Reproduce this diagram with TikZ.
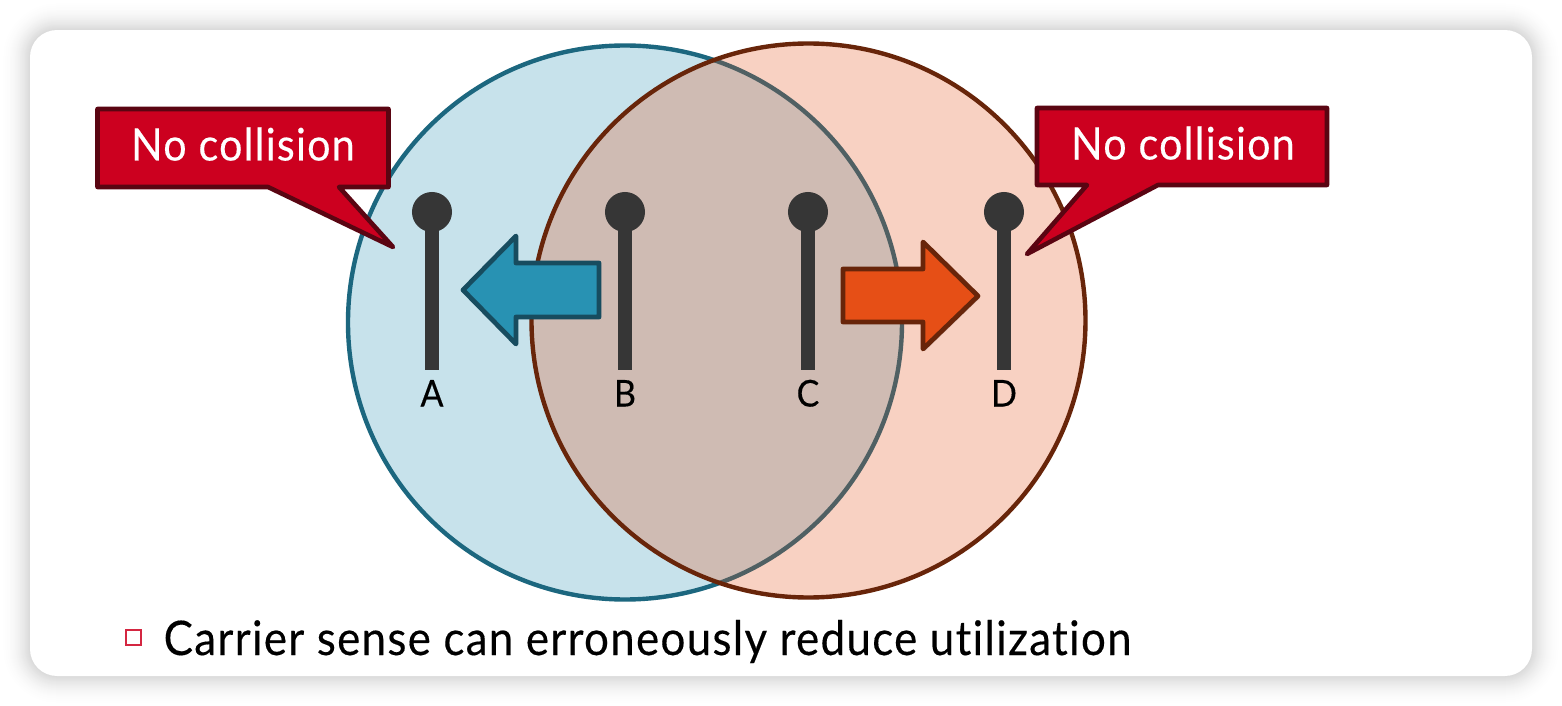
\documentclass[tikz,border=0pt]{standalone}
\usepackage{fontspec}
\setmainfont{Lato}[FakeStretch=0.92, FakeBold=0.3, LetterSpace=2.8, Ligatures=NoCommon]
\usetikzlibrary{shadows}
\definecolor{bluefill}{HTML}{2892B3}
\definecolor{blueline}{HTML}{1C677F}
\definecolor{bluedark}{HTML}{174C5F}
\definecolor{orangefill}{HTML}{E64F16}
\definecolor{orangeline}{HTML}{68250A}
\definecolor{calloutfill}{HTML}{CC001F}
\definecolor{calloutline}{HTML}{5A0512}
\definecolor{stationgray}{HTML}{363636}
\tikzset{
  radiorange/.style={line width=1.25pt, fill opacity=0.26},
  stationhead/.style={circle, fill=stationgray, inner sep=0pt, minimum size=0.4cm},
  stationpole/.style={line width=0.14cm, stationgray},
  stationlabel/.style={font=\fontsize{10.5pt}{12pt}\selectfont, text=black, anchor=base},
  callout/.style={fill=calloutfill, draw=calloutline, line width=1.3pt, line join=round},
  callouttext/.style={font=\fontsize{12.75pt}{15pt}\selectfont, text=white, anchor=base},
  blockarrow/.style={line width=1.35pt, line join=round, drop shadow={opacity=0.3, shadow xshift=0.02cm, shadow yshift=-0.02cm}}
}
\begin{document}
\begin{tikzpicture}[x=0.01cm,y=-0.01cm]
    \useasboundingbox (0,0) rectangle (1562,706);

    % Soft shadow round the card
    \foreach \s in {30,29,...,1} {
      \pgfmathsetmacro\shade{15*(1-\s/30)*(1-\s/30)}
      \fill[black!\shade!white, rounded corners={(27+\s)*0.01cm}] (30-\s,30-\s) rectangle (1532+\s,676+\s);
    }
    \fill[white, rounded corners=0.27cm] (30,30) rectangle (1532,676);

    % Transmission ranges
    \draw[radiorange, draw=blueline, fill=bluefill] (625,322.5) circle (277);
    \draw[radiorange, draw=orangeline, fill=orangefill] (808.5,320.5) circle (277);

    % Stations
    \foreach \n/\x in {A/432,B/625,C/808,D/1004} {
      \draw[stationpole] (\x,212) -- (\x,370);
      \node[stationhead] (head\n) at (\x,212) {};
      \node[stationlabel] (label\n) at (\x,406.5) {\n};
    }

    % Left arrow
    \draw[blockarrow, draw=bluedark, fill=bluefill] (599,263) -- (516,263) -- (516,236) -- (463,290)
      -- (516,344) -- (516,317) -- (599,317) -- cycle;
    % Right arrow
    \draw[blockarrow, draw=orangeline, fill=orangefill] (843,269) -- (923,269) -- (923,242) -- (978,296)
      -- (923,349) -- (923,322) -- (843,322) -- cycle;

    % Callouts
    \draw[callout] (97.5,109) -- (388.5,109) -- (388.5,187) -- (339,187) -- (393,247) -- (268,187) -- (97.5,187) -- cycle;
    \node[callouttext] (collisionA) at (243,160.5) {No collision};
    \draw[callout] (1037,108) -- (1327,108) -- (1327,185) -- (1158,185) -- (1027,254) -- (1087,185) -- (1037,185) -- cycle;
    \node[callouttext] (collisionD) at (1183,159.5) {No collision};

    % Bullet line
    \draw[line width=0.45pt, draw=calloutfill!85!white] (126,630) rectangle (141,645);
    \node[anchor=base west, inner sep=0pt, text=black, font=\fontsize{13.55pt}{16pt}\selectfont] (bullet) at (163,655) {Carrier sense can erroneously reduce utilization};
\end{tikzpicture}
\end{document}
